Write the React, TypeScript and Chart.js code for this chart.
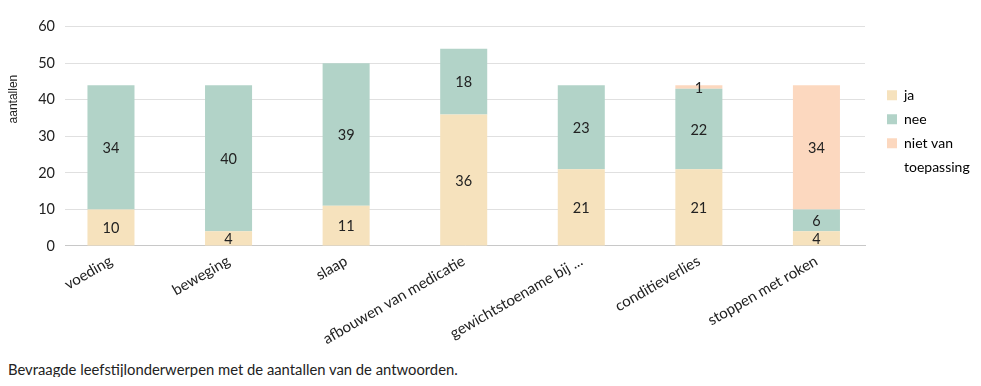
import React, { useEffect, useRef } from "react";
import { Chart, registerables } from "chart.js";

Chart.register(...registerables);

const categories = [
  "voeding",
  "beweging",
  "slaap",
  "afbouwen van medicatie",
  "gewichtstoename bij ...",
  "conditieverlies",
  "stoppen met roken",
];
const jaValues = [10, 4, 11, 36, 21, 21, 4];
const neeValues = [34, 40, 39, 18, 23, 22, 6];
const nvtValues = [0, 0, 0, 0, 0, 1, 34];
const seriesLabels = ["ja", "nee", "niet van toepassing"];
const legendLines = [["ja"], ["nee"], ["niet van", "toepassing"]];
const yAxisTitle = "aantallen";
const caption = "Bevraagde leefstijlonderwerpen met de aantallen van de antwoorden.";

const colors = ["#f6e2bd", "#b2d3c8", "#fcd8bf"];
const FONT = "Lato, 'Noto Sans', sans-serif";

const valueLabels = {
  id: "valueLabels",
  afterDatasetsDraw(chart: any) {
    const ctx = chart.ctx;
    ctx.save();
    ctx.font = `14.5px ${FONT}`;
    ctx.fillStyle = "#222";
    ctx.textAlign = "center";
    ctx.textBaseline = "middle";
    chart.data.datasets.forEach((ds: any, di: number) => {
      const meta = chart.getDatasetMeta(di);
      meta.data.forEach((el: any, i: number) => {
        const v = ds.data[i].y;
        if (!v) return;
        ctx.fillText(String(v), el.x, (el.y + el.base) / 2 + 1);
      });
    });
    ctx.restore();
  },
};

const yTitle = {
  id: "yTitle",
  afterDraw(chart: any) {
    const ctx = chart.ctx;
    const a = chart.chartArea;
    ctx.save();
    ctx.font = `12px 'Liberation Sans', Arial, sans-serif`;
    ctx.fillStyle = "#222";
    ctx.textAlign = "center";
    ctx.textBaseline = "middle";
    ctx.translate(5.5, a.top + (a.bottom - a.top) * 0.33);
    ctx.rotate(-Math.PI / 2);
    ctx.fillText(yAxisTitle, 0, 0);
    ctx.restore();
  },
};

export default function App() {
  const ref = useRef<HTMLCanvasElement>(null);
  useEffect(() => {
    if (!ref.current) return;
    const mk = (vals: number[]) => vals.map((y, x) => ({ x, y }));
    const chart = new Chart(ref.current, {
      type: "bar",
      data: {
        datasets: [jaValues, neeValues, nvtValues].map((vals, i) => ({
          label: seriesLabels[i],
          data: mk(vals) as any,
          backgroundColor: colors[i],
          borderWidth: 0,
          categoryPercentage: 1,
          barPercentage: 0.4,
        })),
      },
      options: {
        responsive: false,
        animation: false,
        devicePixelRatio: 1,
        layout: { padding: { top: 9, right: 0, bottom: 2, left: 0 } },
        plugins: {
          tooltip: { enabled: false },
          legend: {
            position: "right",
            align: "center",
            fullSize: false,
            maxWidth: 96,
            labels: {
              boxWidth: 10,
              boxHeight: 10,
              padding: 10,
              color: "#222",
              font: { family: FONT, size: 14, lineHeight: "24px" } as any,
              generateLabels: (c: any) =>
                c.data.datasets.map((ds: any, i: number) => ({
                  text: legendLines[i].length > 1 ? legendLines[i] : legendLines[i][0],
                  fillStyle: ds.backgroundColor,
                  strokeStyle: ds.backgroundColor,
                  lineWidth: 0,
                  hidden: false,
                  datasetIndex: i,
                })),
            },
          },
        },
        scales: {
          x: {
            type: "linear",
            stacked: true,
            offset: false,
            min: -0.391,
            max: 6.413,
            grid: { display: false, drawTicks: false },
            border: { display: true, color: "#c8c8c8", width: 1 },
            afterBuildTicks: (s: any) => {
              s.ticks = categories.map((_, i) => ({ value: i }));
            },
            ticks: {
              autoSkip: false,
              minRotation: 30,
              maxRotation: 30,
              padding: 6,
              color: "#222",
              font: { family: FONT, size: 15 },
              callback: (v: any) => categories[v as number],
            },
          },
          y: {
            stacked: true,
            min: 0,
            max: 60,
            afterFit: (s: any) => {
              s.width = 57;
            },
            grid: { color: "#e0e0e0", drawTicks: false },
            border: { display: false },
            ticks: {
              stepSize: 10,
              padding: 10,
              color: "#222",
              font: { family: FONT, size: 14.5 },
            },
          },
          spacer: {
            type: "linear",
            position: "right",
            display: true,
            grid: { display: false, drawTicks: false },
            border: { display: false },
            ticks: { display: false },
            afterFit: (s: any) => {
              s.width = 12;
            },
          },
        },
      },
      plugins: [valueLabels, yTitle],
    });
    return () => chart.destroy();
  }, []);
  return (
    <div style={{ fontFamily: FONT }}>
      <canvas ref={ref} width={965} height={348} style={{ display: "block" }} />
      <div style={{ marginTop: 5, fontSize: 14.8, lineHeight: "16px", color: "#222" }}>{caption}</div>
    </div>
  );
}
